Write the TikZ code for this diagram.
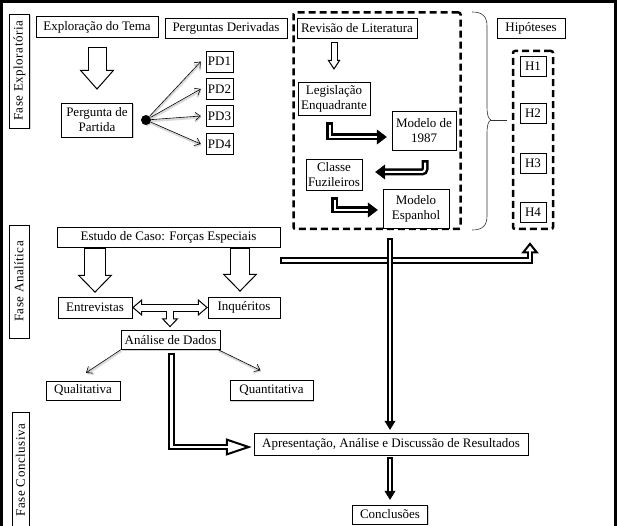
\documentclass[tikz,border=0pt]{standalone}
\usepackage{fontspec}
\setmainfont{Liberation Serif}
\usetikzlibrary{arrows.meta, shadows, calc}

\begin{document}
\begin{tikzpicture}[x=1pt, y=-1pt,
    box/.style = {draw, fill = white, align = center, inner sep = 1pt, font = \fontsize{13}{15}\selectfont,
      drop shadow = {shadow xshift = 1pt, shadow yshift = -1pt, fill = black!35}},
    fase/.style = {box, rotate = 90, minimum height = 20, font = \fontsize{13}{15}\selectfont\addfontfeatures{LetterSpace=4}},
    dashedframe/.style = {draw, line width = 2.5pt, dash pattern = on 7pt off 4pt, rounded corners = 2pt},
    hollow/.style n args = {4}{preaction = {draw = black, line width = #1, shorten <= 0pt, shorten >= 0pt,
        -{Triangle[length = #3, width = #4, fill = white, line width = #2]}},
      draw = white, line width = #1-2*#2, shorten <= #2, shorten >= #3-2*#2},
    hollowboth/.style n args = {4}{preaction = {draw = black, line width = #1, shorten <= 0pt, shorten >= 0pt,
        {Triangle[length = #3, width = #4, fill = white, line width = #2]}-{Triangle[length = #3, width = #4, fill = white, line width = #2]}},
      draw = white, line width = #1-2*#2, shorten <= #3-2*#2, shorten >= #3-2*#2},
    pipe/.style n args = {4}{preaction = {draw = black, line width = #1, shorten <= 0pt, shorten >= 0pt,
        -{Triangle[length = #3, width = #4, line width = 0.5pt]}},
      draw = white, line width = #1-2*#2, shorten <= #2, shorten >= #3},
    thinarrow/.style = {-{Straight Barb[length = 5pt, width = 8pt]}, semithick,
      preaction = {draw = black!15, line width = 2pt, transform canvas = {xshift = 0.5pt, yshift = -1.5pt}}}]
  \useasboundingbox (0,0) rectangle (617,526);
  \draw[line width = 3pt] (1.5,540) -- (1.5,1.5) -- (615.5,1.5) -- (615.5,540);

  \node[fase, minimum width = 114] (faseexp) at (19.5,71) {Fase Exploratória};
  \node[fase, minimum width = 113] (faseana) at (19,281.5) {Fase Analítica};
  \node[fase, minimum width = 116, minimum height = 17] (fasecon) at (20.5,470) {Fase Conclusiva};

  \node[box, minimum width = 122, minimum height = 21] (tema) at (97,27) {Exploração do Tema};
  \node[box, minimum width = 122, minimum height = 20] (derivadas) at (226,28) {Perguntas Derivadas};
  \node[box, minimum width = 71, minimum height = 34] (partida) at (97,120) {Pergunta de\\Partida};
  \node[circle, fill, inner sep = 0pt, minimum size = 10, drop shadow = {shadow xshift = 1pt, shadow yshift = -1pt, fill = black!35}] (dot) at (146,120) {};
  \foreach \i/\y in {1/61.5, 2/89, 3/116, 4/144}
    \node[box, minimum width = 27, minimum height = 21] (pd\i) at (219.5,\y) {PD\i};

  \node[dashedframe, minimum width = 167, minimum height = 216.5] (litbox) at (377,120.75) {};
  \node[box, minimum width = 120, minimum height = 20] (revisao) at (357,28) {Revisão de Literatura};
  \node[box, minimum width = 72, minimum height = 33] (legislacao) at (334,98.5) {Legislação\\Enquadrante};
  \node[box, minimum width = 64, minimum height = 39] (modelo87) at (424,130.5) {Modelo de\\1987};
  \node[box, minimum width = 56, minimum height = 31] (classe) at (334,174.5) {Classe\\Fuzileiros};
  \node[box, minimum width = 66, minimum height = 39] (espanhol) at (416,208.5) {Modelo\\Espanhol};

  \node[box, minimum width = 68, minimum height = 20] (hipoteses) at (531,28) {Hipóteses};
  \node[dashedframe, minimum width = 40, minimum height = 178] (hbox) at (533,140) {};
  \foreach \i/\y in {1/66, 2/113.5, 3/163, 4/212.5}
    \node[box, minimum width = 26, minimum height = 20] (h\i) at (533,\y) {H\i};

  \node[box, minimum width = 223, minimum height = 20] (estudo) at (168.5,237) {Estudo de Caso: Forças Especiais};
  \node[box, minimum width = 74, minimum height = 21] (entrevistas) at (95,307.5) {Entrevistas};
  \node[box, minimum width = 72, minimum height = 21] (inqueritos) at (244,307.5) {Inquéritos};
  \node[box, minimum width = 99, minimum height = 19] (analise) at (170.5,340) {Análise de Dados};
  \node[box, minimum width = 74, minimum height = 19] (qualitativa) at (83,390.5) {Qualitativa};
  \node[box, minimum width = 83, minimum height = 20] (quantitativa) at (271.5,390.5) {Quantitativa};
  \node[box, minimum width = 274, minimum height = 22] (resultados) at (391,444) {Apresentação, Análise e Discussão de Resultados};
  \node[box, minimum width = 75, minimum height = 19] (conclusoes) at (390,514.5) {Conclusões};

  % fase exploratoria
  \draw[hollow = {19pt}{1pt}{20pt}{35pt}] ([yshift = -9]tema.south) -- ([yshift = 13]partida.north);
  \foreach \i in {1,...,4}
    \draw[thinarrow] (dot) -- ([xshift = -5]pd\i.west);

  % revisao de literatura
  \draw[hollow = {7pt}{1pt}{10pt}{13pt}] ([yshift = -4]revisao.south -| legislacao.north) -- ([yshift = 12]legislacao.north);
  \draw[pipe = {7pt}{2.5pt}{10pt}{15pt}] ([xshift = -4.5, yshift = -7]legislacao.south) |- ([xshift = -5, yshift = -6.5]modelo87.west);
  \draw[pipe = {7pt}{2.5pt}{10pt}{15pt}, rounded corners = 3pt] ([xshift = 1, yshift = -10]modelo87.south) |- ([xshift = 13, yshift = 2.5]classe.east);
  \draw[pipe = {7pt}{2.5pt}{10pt}{15pt}] ([xshift = 0.5, yshift = -7]classe.south) |- ([xshift = -5, yshift = -1.5]espanhol.west);

  \draw[black!80, semithick] (472,12) .. controls (482,12) and (487,16) .. (487,26) -- (487,106)
    .. controls (487,114) and (488,119) .. (491,120) .. controls (488,121) and (487,126) .. (487,134)
    -- (487,216) .. controls (487,226) and (482,230) .. (472,230);
  \coordinate (bracetip) at (491,120);
  \draw[black!80, semithick, shorten >= 5pt] (bracetip) -- (bracetip -| hbox.west);

  % fase analitica
  \draw[hollow = {22pt}{1pt}{18pt}{35pt}] ([yshift = -1]estudo.south -| entrevistas.north) -- ([yshift = 4]entrevistas.north);
  \draw[hollow = {20pt}{1pt}{18pt}{35pt}] ([xshift = -4, yshift = -1]estudo.south -| inqueritos.north) -- ([xshift = -4, yshift = 5]inqueritos.north);
  \draw[hollowboth = {8pt}{1pt}{10pt}{17pt}] (entrevistas.east) -- (inqueritos.west);
  \coordinate (tjoin) at ($(entrevistas.east)!0.5!(inqueritos.west)$);
  \draw[hollow = {8pt}{1pt}{9pt}{17pt}, shorten <= 0pt] ([yshift = -3]tjoin) -- ([yshift = 3]tjoin |- analise.north);
  \draw[thinarrow] (analise.south west) -- ([xshift = 3, yshift = 8]qualitativa.north);
  \draw[thinarrow] ([xshift = -2]analise.south east) -- ([xshift = -11, yshift = 10]quantitativa.north);
  \draw[hollow = {6.5pt}{2pt}{11pt}{17pt}] ([yshift = -23.5]estudo.east) -| ([xshift = -3, yshift = -12]hbox.south);
  \draw[pipe = {6.5pt}{2pt}{9pt}{11pt}] ([xshift = -1, yshift = -8]litbox.south -| resultados.north) -- ([xshift = -1, yshift = 3]resultados.north);

  % fase conclusiva
  \draw[hollow = {6.5pt}{2pt}{26pt}{17pt}] ([xshift = 1, yshift = -3]analise.south) |- ([xshift = -2, yshift = -3]resultados.west);
  \draw[pipe = {6.5pt}{2pt}{9pt}{11pt}] ([xshift = -1, yshift = -2]resultados.south) -- ([xshift = -1, yshift = 5]resultados.south |- conclusoes.north);
\end{tikzpicture}
\end{document}
